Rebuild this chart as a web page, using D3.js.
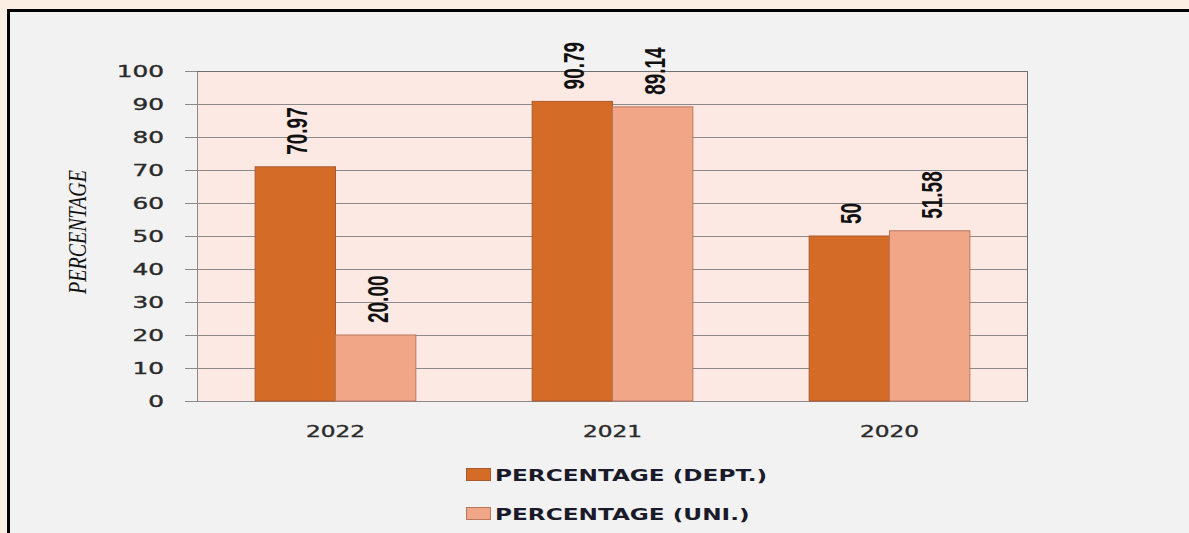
<!DOCTYPE html>
<html>
<head>
<meta charset="utf-8">
<script src="https://cdn.jsdelivr.net/npm/d3@7"></script>
<style>
  html, body { margin: 0; padding: 0; background: #fdeee3; }
  svg { display: block; }
</style>
</head>
<body>
<svg id="chart" width="1189" height="533"></svg>
<script>
"use strict";

// Data.
const years = ["2022", "2021", "2020"];
const deptValues = [70.97, 90.79, 50];
const uniValues = [20.00, 89.14, 51.58];
const deptLabels = ["70.97", "90.79", "50"];
const uniLabels = ["20.00", "89.14", "51.58"];
const seriesNames = ["PERCENTAGE (DEPT.)", "PERCENTAGE (UNI.)"];
const yTicks = [0, 10, 20, 30, 40, 50, 60, 70, 80, 90, 100];

const colors = ["#d46b26", "#f0a687"],
    strokes = ["#a95a2c", "#b9765c"],
    SX = 1.55; // the picture is stretched sideways

const svg = d3.select("#chart"),
    width = +svg.attr("width"),
    height = +svg.attr("height"),
    plot = {left: 197, right: 1028, top: 71, bottom: 401};

// Outer frame: peach margin, black top/left border, grey panel.
svg.append("rect")
    .attr("x", 0).attr("y", 0)
    .attr("width", width).attr("height", height)
    .attr("fill", "#fdeee3");
svg.append("rect")
    .attr("x", 7).attr("y", 9)
    .attr("width", width - 7).attr("height", height - 9)
    .attr("fill", "#000");
svg.append("rect")
    .attr("x", 10).attr("y", 12)
    .attr("width", width - 10).attr("height", height - 12)
    .attr("fill", "#f2f2f2");

const x = d3.scaleBand()
    .domain(years)
    .range([plot.left, plot.right])
    .paddingInner(0.42)
    .paddingOuter(0.21);

const y = d3.scaleLinear()
    .domain([0, 100])
    .range([plot.bottom, plot.top]);

const xSub = d3.scaleBand()
    .domain([0, 1])
    .range([0, x.bandwidth()]);

// Plot area background.
svg.append("rect")
    .attr("x", plot.left).attr("y", plot.top)
    .attr("width", plot.right - plot.left)
    .attr("height", plot.bottom - plot.top)
    .attr("fill", "#fce9e3");

// Gridlines + tick marks.
svg.append("g")
    .selectAll("line")
    .data(yTicks)
    .enter().append("line")
    .attr("x1", plot.left - 12)
    .attr("x2", plot.right)
    .attr("y1", (d) => Math.round(y(d)) + 0.5)
    .attr("y2", (d) => Math.round(y(d)) + 0.5)
    .attr("stroke", "#8a8a8a")
    .attr("stroke-width", 1);

// Plot borders.
svg.append("line")
    .attr("x1", plot.left + 0.5).attr("x2", plot.left + 0.5)
    .attr("y1", plot.top).attr("y2", plot.bottom)
    .attr("stroke", "#8a8a8a");
svg.append("line")
    .attr("x1", plot.right - 0.5).attr("x2", plot.right - 0.5)
    .attr("y1", plot.top).attr("y2", plot.bottom)
    .attr("stroke", "#6f6f6f");
svg.append("line")
    .attr("x1", plot.left).attr("x2", plot.right)
    .attr("y1", plot.top + 0.5).attr("y2", plot.top + 0.5)
    .attr("stroke", "#6f6f6f");

// Y tick labels.
svg.append("g")
    .selectAll("text")
    .data(yTicks)
    .enter().append("text")
    .attr("transform", (d) => "translate(164," + y(d) + ") scale(" + SX + ",1)")
    .attr("dy", "0.36em")
    .attr("text-anchor", "end")
    .attr("font-family", "'DejaVu Sans', Verdana, sans-serif")
    .attr("font-size", 16)
    .attr("fill", "#2a2a2a")
    .attr("stroke", "#2a2a2a")
    .attr("stroke-width", 0.35)
    .text((d) => d);

// Y axis title.
svg.append("text")
    .attr("transform", "translate(77,232) rotate(-90) scale(1,1.25)")
    .attr("dy", "0.35em")
    .attr("text-anchor", "middle")
    .attr("font-family", "'Liberation Serif', 'Times New Roman', serif")
    .attr("font-style", "italic")
    .attr("font-size", 20)
    .attr("fill", "#111")
    .text("PERCENTAGE");

// Bars.
const series = [deptValues, uniValues],
    labels = [deptLabels, uniLabels];

series.forEach((values, s) => {
  const g = svg.append("g");
  g.selectAll("rect")
      .data(values)
      .enter().append("rect")
      .attr("x", (d, i) => x(years[i]) + xSub(s))
      .attr("y", (d) => y(d))
      .attr("width", xSub.bandwidth())
      .attr("height", (d) => y(0) - y(d))
      .attr("fill", colors[s])
      .attr("stroke", strokes[s])
      .attr("stroke-width", 1);

  g.selectAll("text")
      .data(values)
      .enter().append("text")
      .attr("transform", (d, i) => "translate("
          + (x(years[i]) + xSub(s) + xSub.bandwidth() / 2 + 1.5) + ","
          + (y(d) - 12) + ") rotate(-90) scale(1," + SX + ")")
      .attr("dy", "0.36em")
      .attr("text-anchor", "start")
      .attr("font-family", "'Liberation Sans Narrow', 'Arial Narrow', 'Liberation Sans', sans-serif")
      .attr("font-weight", "bold")
      .attr("font-size", 19)
      .attr("fill", "#111")
      .text((d, i) => labels[s][i]);
});

// X category labels.
svg.append("g")
    .selectAll("text")
    .data(years)
    .enter().append("text")
    .attr("transform", (d) => "translate(" + (x(d) + x.bandwidth() / 2) + ",437) scale(" + SX + ",1)")
    .attr("text-anchor", "middle")
    .attr("font-family", "'DejaVu Sans', Verdana, sans-serif")
    .attr("font-size", 15)
    .attr("fill", "#2a2a2a")
    .attr("stroke", "#2a2a2a")
    .attr("stroke-width", 0.35)
    .text((d) => d);

// Legend.
const legendItem = svg.append("g")
    .selectAll("g")
    .data(seriesNames)
    .enter().append("g")
    .attr("transform", (d, i) => "translate(466," + (468 + i * 39) + ")");

legendItem.append("rect")
    .attr("x", 0.5).attr("y", 0.5)
    .attr("width", 24).attr("height", 12)
    .attr("fill", (d, i) => colors[i])
    .attr("stroke", (d, i) => strokes[i]);

legendItem.append("text")
    .attr("transform", "translate(29,13) scale(1.45,1)")
    .attr("font-family", "'DejaVu Sans', Verdana, sans-serif")
    .attr("font-weight", "bold")
    .attr("font-size", 16)
    .attr("fill", "#1a1a2a")
    .text((d) => d);
</script>
</body>
</html>
